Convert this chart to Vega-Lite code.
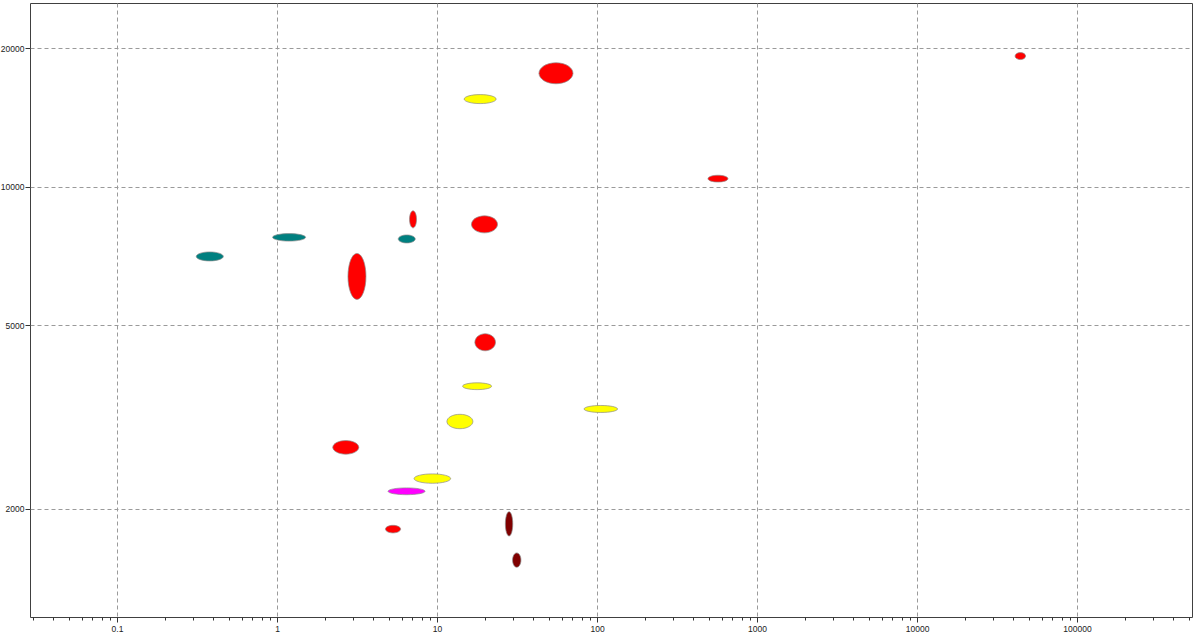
{
  "$schema": "https://vega.github.io/schema/vega-lite/v6.json",
  "autosize": {"type": "none"},
  "width": 1162,
  "height": 614,
  "padding": {"left": 30, "top": 3, "right": 7, "bottom": 22},
  "background": "white",
  "config": {
    "view": {"stroke": "#404040", "strokeWidth": 1},
    "axis": {
      "labelFont": "Liberation Sans",
      "labelFontSize": 8.5,
      "labelColor": "#222222",
      "tickColor": "#333333",
      "domain": false,
      "gridColor": "#9a9a9a",
      "gridDash": [4, 3],
      "gridWidth": 1,
      "title": null
    }
  },
  "data": {
    "values": [
      {"id": "e1", "x": 0.38, "y": 7060, "group": "teal"},
      {"id": "e2", "x": 1.19, "y": 7767, "group": "teal"},
      {"id": "e3", "x": 6.47, "y": 7705, "group": "teal"},
      {"id": "e4", "x": 7.08, "y": 8499, "group": "red"},
      {"id": "e5", "x": 3.16, "y": 6389, "group": "red"},
      {"id": "e6", "x": 19.8, "y": 8289, "group": "red"},
      {"id": "e7", "x": 18.6, "y": 15510, "group": "yellow"},
      {"id": "e8", "x": 55.4, "y": 17650, "group": "red"},
      {"id": "e9", "x": 570, "y": 10418, "group": "red"},
      {"id": "e10", "x": 44220, "y": 19234, "group": "red"},
      {"id": "e11", "x": 20.0, "y": 4596, "group": "red"},
      {"id": "e12", "x": 17.8, "y": 3689, "group": "yellow"},
      {"id": "e13", "x": 13.9, "y": 3092, "group": "yellow"},
      {"id": "e14", "x": 105.6, "y": 3292, "group": "yellow"},
      {"id": "e15", "x": 2.69, "y": 2717, "group": "red"},
      {"id": "e16", "x": 9.35, "y": 2324, "group": "yellow"},
      {"id": "e17", "x": 6.45, "y": 2181, "group": "magenta"},
      {"id": "e18", "x": 5.31, "y": 1805, "group": "red"},
      {"id": "e19", "x": 28.2, "y": 1853, "group": "maroon"},
      {"id": "e20", "x": 31.5, "y": 1546, "group": "maroon"}
    ]
  },
  "mark": {"type": "point", "filled": true, "opacity": 1, "stroke": "#8c8c8c", "strokeWidth": 0.7, "size": 4},
  "encoding": {
    "x": {
      "field": "x",
      "type": "quantitative",
      "scale": {"type": "log", "domain": [0.02859, 523000], "nice": false, "zero": false},
      "axis": {
        "values": [0.03,0.04,0.05,0.06,0.07,0.08,0.09,0.1,0.2,0.3,0.4,0.5,0.6,0.7,0.8,0.9,1,2,3,4,5,6,7,8,9,10,20,30,40,50,60,70,80,90,100,200,300,400,500,600,700,800,900,1000,2000,3000,4000,5000,6000,7000,8000,9000,10000,20000,30000,40000,50000,60000,70000,80000,90000,100000,200000,300000,400000,500000],
        "labelExpr": "indexof([0.1,1,10,100,1000,10000,100000], datum.value) >= 0 ? format(datum.value, '~g') : ''",
        "labelOverlap": false,
        "labelFlush": false,
        "labelPadding": 2,
        "tickSize": {"condition": {"test": "indexof([0.1,1,10,100,1000,10000,100000], datum.value) >= 0", "value": 5}, "value": 3},
        "gridOpacity": {"condition": {"test": "indexof([0.1,1,10,100,1000,10000,100000], datum.value) >= 0", "value": 1}, "value": 0},
        "grid": true
      }
    },
    "y": {
      "field": "y",
      "type": "quantitative",
      "scale": {"type": "log", "domain": [1163, 25080], "nice": false, "zero": false},
      "axis": {
        "values": [2000, 5000, 10000, 20000],
        "format": "~g",
        "tickSize": 5,
        "labelPadding": 1,
        "grid": true
      }
    },
    "color": {
      "field": "group",
      "type": "nominal",
      "scale": {"domain": ["teal", "red", "yellow", "magenta", "maroon"], "range": ["#008080", "#ff0000", "#ffff00", "#ff00ff", "#800000"]},
      "legend": null
    },
    "shape": {
      "field": "id",
      "type": "nominal",
      "scale": {
        "domain": ["e1","e2","e3","e4","e5","e6","e7","e8","e9","e10","e11","e12","e13","e14","e15","e16","e17","e18","e19","e20"],
        "range": [
          "M-13.5,0A13.5,4.5 0 1,0 13.5,0A13.5,4.5 0 1,0 -13.5,0Z",
          "M-16.5,0A16.5,3.75 0 1,0 16.5,0A16.5,3.75 0 1,0 -16.5,0Z",
          "M-8.5,0A8.5,4 0 1,0 8.5,0A8.5,4 0 1,0 -8.5,0Z",
          "M-3.5,0A3.5,8.5 0 1,0 3.5,0A3.5,8.5 0 1,0 -3.5,0Z",
          "M-9,0A9,23 0 1,0 9,0A9,23 0 1,0 -9,0Z",
          "M-13,0A13,8.5 0 1,0 13,0A13,8.5 0 1,0 -13,0Z",
          "M-16,0A16,4.5 0 1,0 16,0A16,4.5 0 1,0 -16,0Z",
          "M-17,0A17,10.5 0 1,0 17,0A17,10.5 0 1,0 -17,0Z",
          "M-10,0A10,3.4 0 1,0 10,0A10,3.4 0 1,0 -10,0Z",
          "M-5.3,0A5.3,3.5 0 1,0 5.3,0A5.3,3.5 0 1,0 -5.3,0Z",
          "M-10.3,0A10.3,8.5 0 1,0 10.3,0A10.3,8.5 0 1,0 -10.3,0Z",
          "M-14.5,0A14.5,3.4 0 1,0 14.5,0A14.5,3.4 0 1,0 -14.5,0Z",
          "M-13,0A13,7.2 0 1,0 13,0A13,7.2 0 1,0 -13,0Z",
          "M-16.8,0A16.8,3.5 0 1,0 16.8,0A16.8,3.5 0 1,0 -16.8,0Z",
          "M-13,0A13,6.8 0 1,0 13,0A13,6.8 0 1,0 -13,0Z",
          "M-18.3,0A18.3,4.7 0 1,0 18.3,0A18.3,4.7 0 1,0 -18.3,0Z",
          "M-18.5,0A18.5,3.4 0 1,0 18.5,0A18.5,3.4 0 1,0 -18.5,0Z",
          "M-7.6,0A7.6,3.8 0 1,0 7.6,0A7.6,3.8 0 1,0 -7.6,0Z",
          "M-3.7,0A3.7,12.2 0 1,0 3.7,0A3.7,12.2 0 1,0 -3.7,0Z",
          "M-4.2,0A4.2,7.2 0 1,0 4.2,0A4.2,7.2 0 1,0 -4.2,0Z"
        ]
      },
      "legend": null
    }
  }
}
